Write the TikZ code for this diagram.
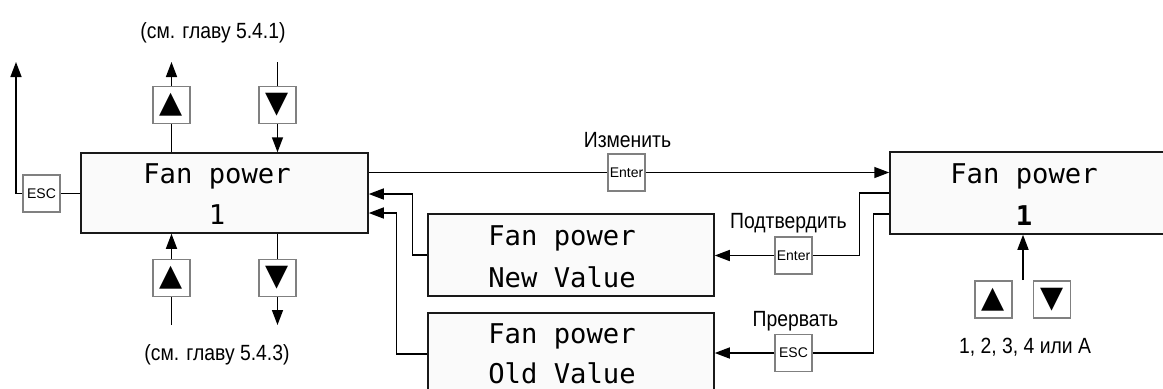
\documentclass[tikz,border=0pt]{standalone}
\usepackage{fontspec}
\setmainfont{Liberation Sans}
\newfontfamily\capfont[FakeStretch=0.88]{Liberation Sans}
\newfontfamily\lcdfont{DejaVu Sans Mono}
\newfontfamily\symfont{DejaVu Sans}
\usetikzlibrary{arrows.meta, positioning}
\definecolor{LCDfill}{RGB}{250,250,250}
\definecolor{KEYgray}{RGB}{128,128,128}

\begin{document}
\begin{tikzpicture}[x=0.5pt, y=-0.5pt,
    lcd/.style={rectangle, draw=black!90, fill=LCDfill, line width=0.75pt,
                minimum width=143pt, minimum height=41pt, inner sep=0pt},
    lcdtext/.style={font=\lcdfont\fontsize{13.6}{16}\selectfont, anchor=base, inner sep=0pt},
    key/.style={rectangle, draw=KEYgray, fill=white, line width=0.6pt,
                minimum size=18.5pt, inner sep=0pt, font=\fontsize{7}{8}\selectfont},
    keysym/.style={key, font=\symfont\fontsize{15}{15}\selectfont},
    arrow/.style={-{Triangle[length=7.5pt, width=5.5pt]}, line width=0.75pt},
    link/.style={line width=0.75pt},
    caption/.style={font=\capfont\fontsize{11}{12}\selectfont, anchor=base, inner sep=0pt}
  ]
    \useasboundingbox (0,0) rectangle (1163,388);
    \clip (0,0) rectangle (1163,388);

    % displays
    \node[lcd, minimum width=143.5pt, minimum height=40pt] (main) at (224.5,193) {};
    \node[lcd, minimum width=155pt] (rbox) at (1045,193) {};
    \node[lcd] (newbox) at (571,255) {};
    \node[lcd] (oldbox) at (571,354) {};
    \node[lcdtext] (mainL1) at (217,183) {Fan power};
    \node[lcdtext] (mainL2) at (217,224) {1};
    \node[lcdtext] (rboxL1) at (1024,183) {Fan power};
    \node[lcdtext] (rboxL2) at (1024,225) {\textbf{1}};
    \node[lcdtext] (newL1) at (562,245) {Fan power};
    \node[lcdtext] (newL2) at (562,287) {New Value};
    \node[lcdtext] (oldL1) at (562,343) {Fan power};
    \node[lcdtext] (oldL2) at (562,383) {Old Value};

    % keys
    \node[key] (escL) at (41.5,193.5) {ESC};
    \node[keysym] (upT) at (171.5,105) {▲};
    \node[keysym] (dnT) at (277.5,105) {▼};
    \node[keysym] (upB) at (171.5,278) {▲};
    \node[keysym] (dnB) at (277.5,278) {▼};
    \node[key] (enterA) at (626.5,172.5) {Enter};
    \node[key] (enterB) at (793.5,255.5) {Enter};
    \node[key] (escB) at (793.5,353) {ESC};
    \node[keysym] (upR) at (993.5,299.5) {▲};
    \node[keysym] (dnR) at (1052,299.5) {▼};

    % captions
    \node[caption] (capTop) at (213,38) {(см. главу 5.4.1)};
    \node[caption] (capBot) at (217,360) {(см. главу 5.4.3)};
    \node[caption] (capChange) at (627.5,147) {Изменить};
    \node[caption] (capConfirm) at (788.5,228) {Подтвердить};
    \node[caption] (capAbort) at (795.5,326) {Прервать};
    \node[caption] (capSel) at (1025,353) {1, 2, 3, 4 или A};

    % free ends
    \coordinate (topEnd) at (16,62);
    \coordinate (botEnd) at (16,325);
    \coordinate (selEnd) at (1023,280);

    % connectors
    \draw[link] (escL -| main.west) -- (escL);
    \draw[arrow] (escL) -| (topEnd);
    \draw[link] (main.north -| upT) -- (upT);
    \draw[arrow] (upT) -- (upT |- topEnd);
    \draw[link] (dnT |- topEnd) -- (dnT);
    \draw[arrow] (dnT) -- (dnT |- main.north);
    \draw[link] (upB |- botEnd) -- (upB);
    \draw[arrow] (upB) -- (upB |- main.south);
    \draw[link] (main.south -| dnB) -- (dnB);
    \draw[arrow] (dnB) -- (dnB |- botEnd);

    \draw[link] (enterA -| main.east) -- (enterA);
    \draw[arrow] (enterA) -- (enterA -| rbox.west);
    \draw[link] (rbox.west) -- ++(-30,0) |- (enterB);
    \draw[arrow] (enterB) -- (enterB -| newbox.east);
    \draw[link] ([yshift=-10.5pt]rbox.west) -- ++(-16,0) |- (escB);
    \draw[arrow] (escB) -- (escB -| oldbox.east);
    \draw[arrow] (newbox.west) -- ++(-15,0) |- ([yshift=-0.5pt]main.east);
    \draw[arrow] (oldbox.west) -- ++(-31,0) |- ([yshift=-10pt]main.east);
    \draw[arrow] (selEnd) -- (selEnd |- rbox.south);
\end{tikzpicture}
\end{document}
